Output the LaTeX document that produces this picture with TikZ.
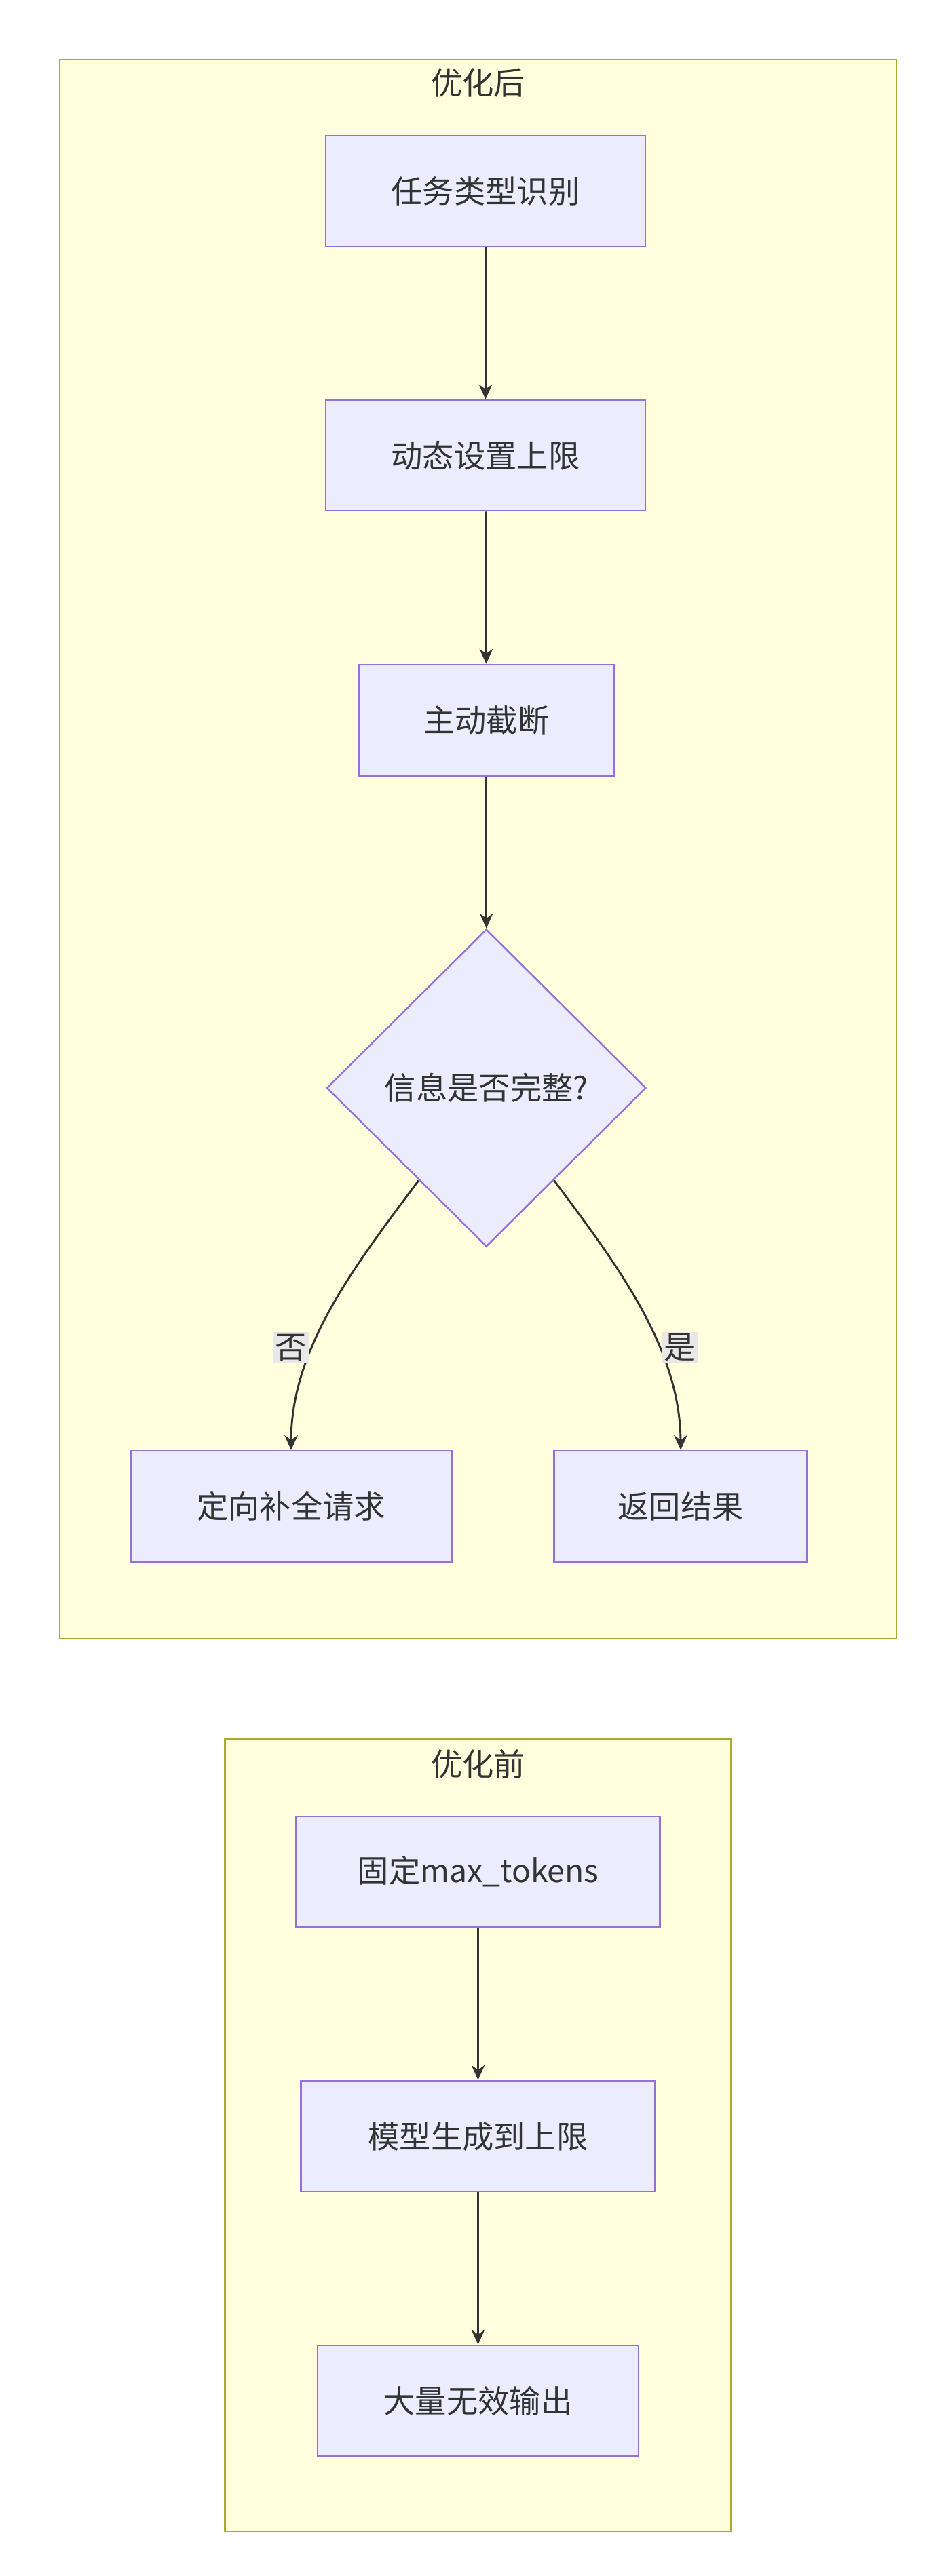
\documentclass[tikz,border=0pt]{standalone}
\usepackage{fontspec}
\setmainfont{Noto Sans CJK SC}
\usetikzlibrary{positioning, shapes.geometric, arrows.meta, backgrounds}
\definecolor{nodefill}{HTML}{ECECFF}
\definecolor{nodeline}{HTML}{9370DB}
\definecolor{clusfill}{HTML}{FFFFDE}
\definecolor{clusline}{HTML}{AAAA33}
\definecolor{edgecol}{HTML}{333333}
\definecolor{lblfill}{HTML}{E8E8E8}
\tikzset{
  box/.style={draw=nodeline, fill=nodefill, line width=1pt, minimum height=67pt, inner sep=0pt, font=\fontsize{19}{22}\selectfont, text=edgecol},
  dec/.style={draw=nodeline, fill=nodefill, line width=1pt, shape=diamond, minimum width=193pt, minimum height=192pt, inner sep=0pt, font=\fontsize{19}{22}\selectfont, text=edgecol},
  clus/.style={draw=clusline, fill=clusfill, line width=1pt},
  ttl/.style={font=\fontsize{19}{22}\selectfont, text=edgecol},
  arr/.style={draw=edgecol, line width=1.2pt, -{Stealth[length=9pt,width=8pt]}},
  lbl/.style={fill=lblfill, inner sep=1pt, font=\fontsize{19}{22}\selectfont, text=edgecol}
}
\begin{document}
\begin{tikzpicture}[x=1pt, y=-1pt]
\useasboundingbox (0,0) rectangle (574,1558);
% the clusters
\draw[clus] (36,36) rectangle (542,991);
\node[ttl] (t1) at (289,50) {优化后};
\draw[clus] (136,1052) rectangle (442,1531);
\node[ttl] (t2) at (289,1067) {优化前};
% after
\node[box, minimum width=193pt] (task) at (293.5,115.5) {任务类型识别};
\node[box, minimum width=193pt] (limit) at (293.5,275.5) {动态设置上限};
\node[box, minimum width=154pt] (cut) at (294,435.5) {主动截断};
\node[dec] (full) at (294,658) {信息是否完整?};
\node[box, minimum width=194pt] (fill) at (176,911) {定向补全请求};
\node[box, minimum width=153pt] (ret) at (411.5,911) {返回结果};
% before
\node[box, minimum width=220pt] (fix) at (289,1132) {固定max\_tokens};
\node[box, minimum width=214pt] (gen) at (289,1292) {模型生成到上限};
\node[box, minimum width=194pt] (waste) at (289,1452) {大量无效输出};
% edges
\draw[arr] (task) -- (limit);
\draw[arr] (limit) -- (cut);
\draw[arr] (cut.south) .. controls (294,520) and (294,530) .. (full.north);
\draw[arr] (full.south west) ++(-0.5,-0.5) coordinate (fl) (253,714) .. controls (215,765) and (176,815) .. (fill.north);
\draw[arr] (335,714) .. controls (373,765) and (411,815) .. (ret.north);
\node[lbl] (no) at (176,815) {否};
\node[lbl] (yes) at (411,815) {是};
\draw[arr] (fix) -- (gen);
\draw[arr] (gen) -- (waste);
\end{tikzpicture}
\end{document}
